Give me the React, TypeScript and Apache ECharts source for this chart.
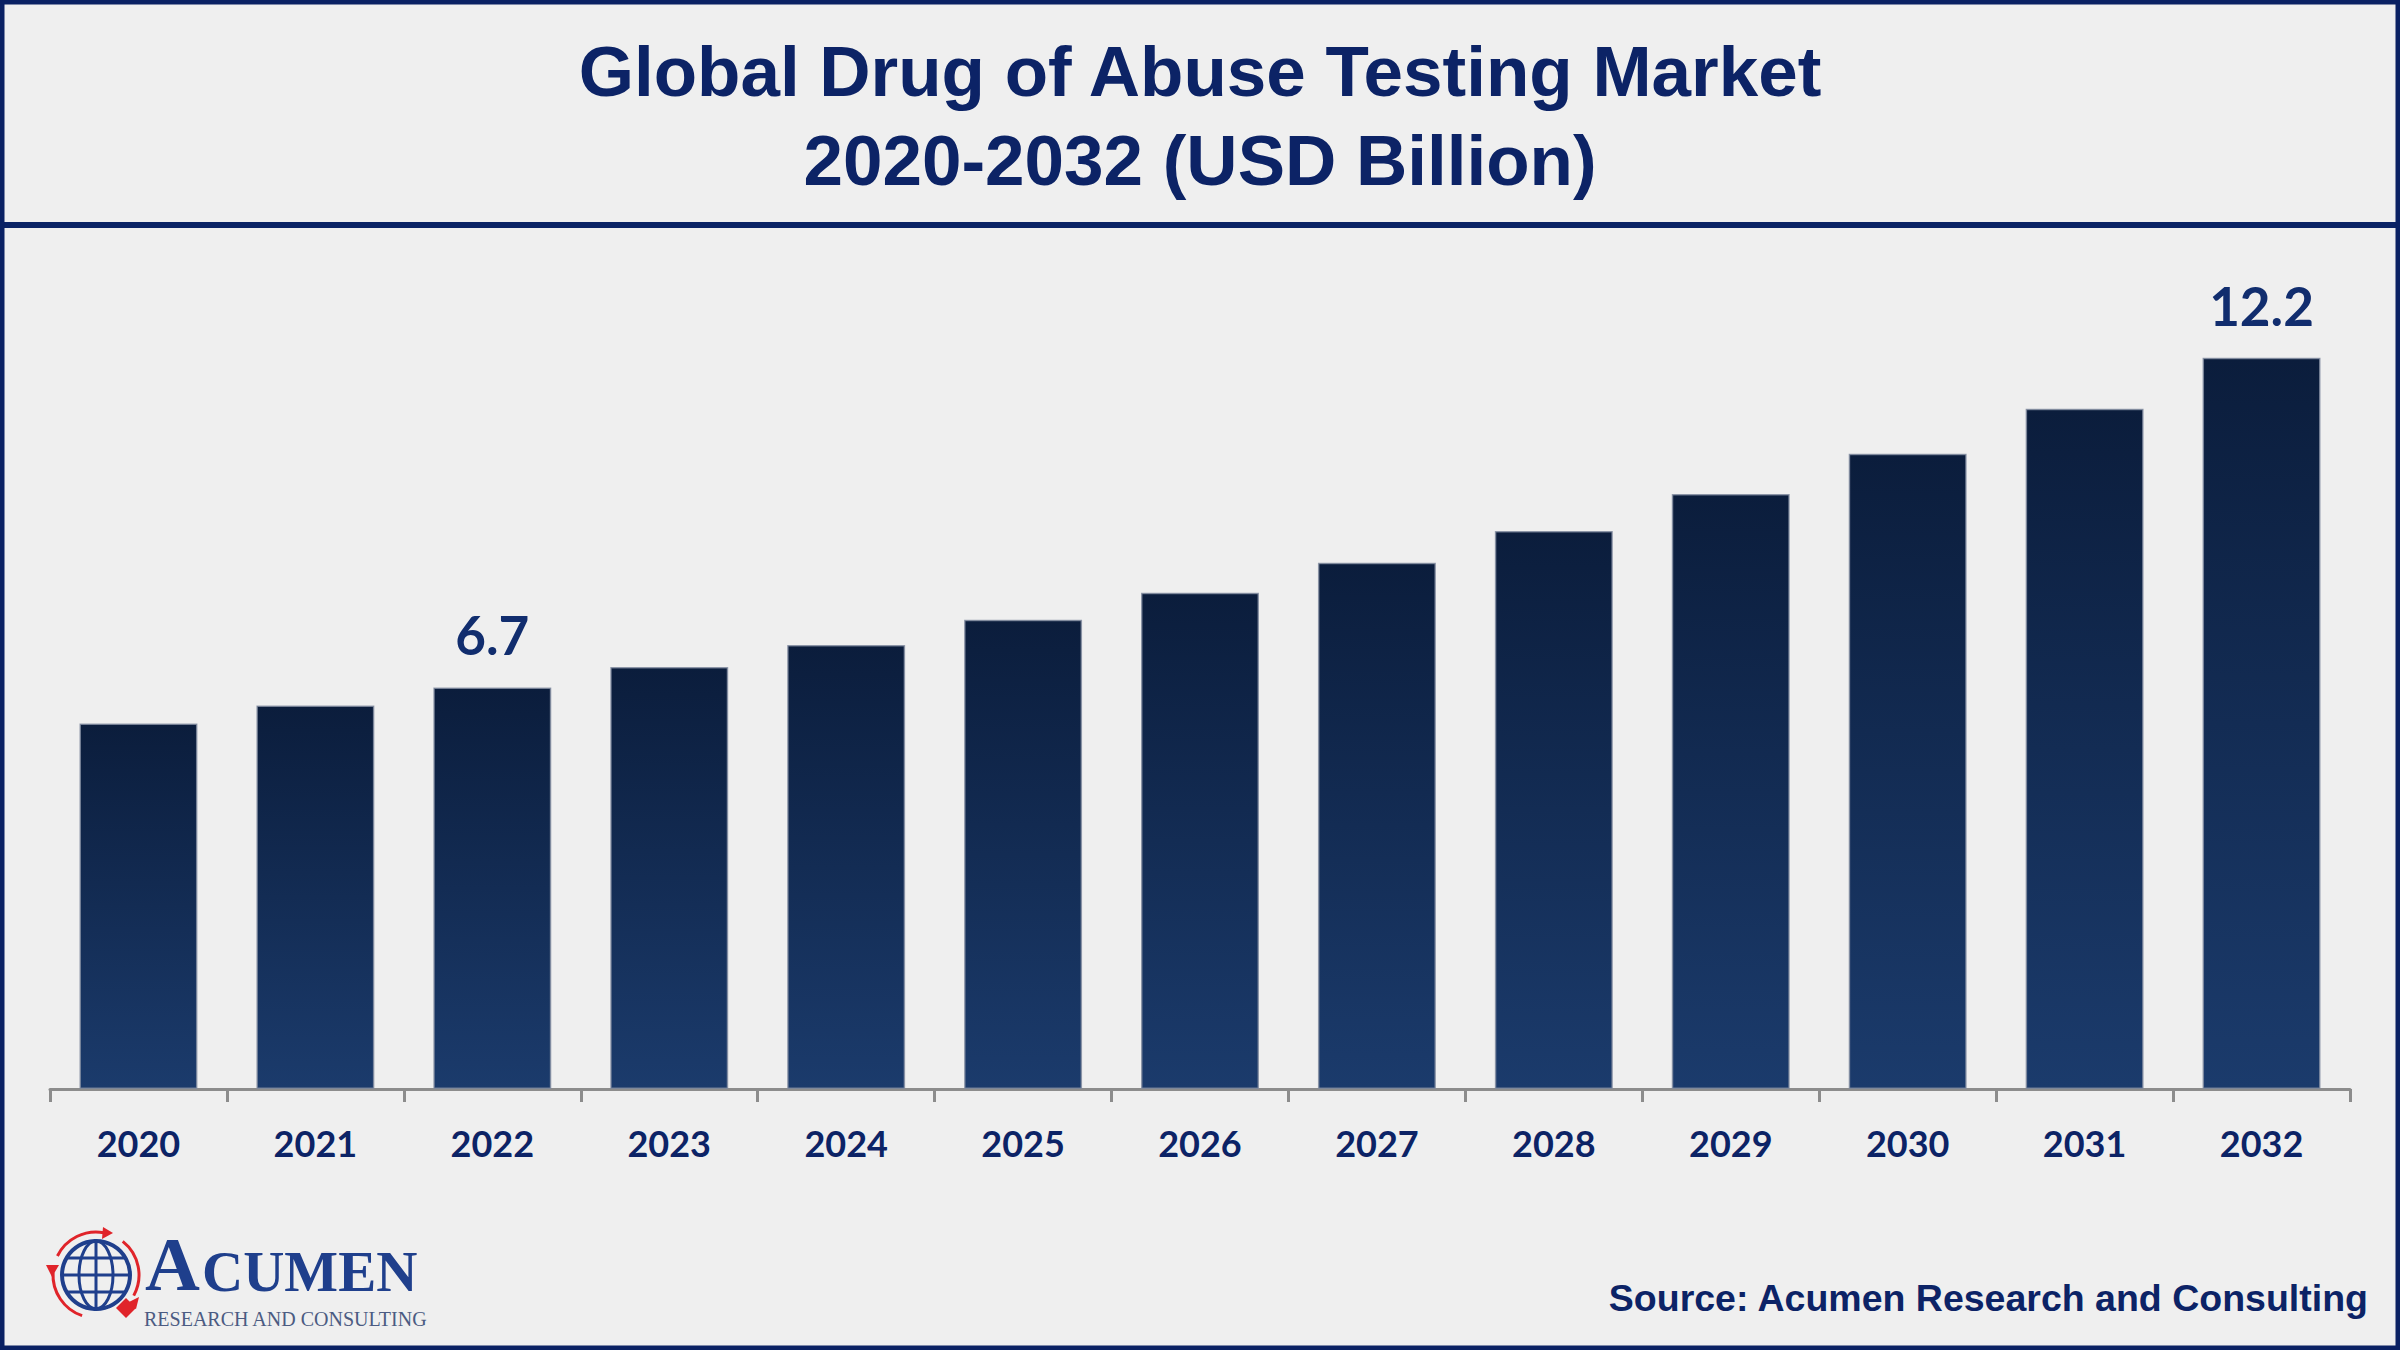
import React, { useEffect, useRef } from "react";
import * as echarts from "echarts";

const categories = ["2020", "2021", "2022", "2023", "2024", "2025", "2026", "2027", "2028", "2029", "2030", "2031", "2032"];
const marketValues = [6.1, 6.4, 6.7, 7.04, 7.41, 7.83, 8.28, 8.78, 9.31, 9.93, 10.6, 11.35, 12.2];
const labelledYears = ["2022", "2032"];
const titleLines = ["Global Drug of Abuse Testing Market", "2020-2032 (USD Billion)"];
const sourceText = "Source: Acumen Research and Consulting";
const logoWord = ["A", "CUMEN"];
const logoSub = "RESEARCH AND CONSULTING";

const NAVY = "#0c2366";

export default function App() {
  const ref = useRef<HTMLDivElement>(null);
  useEffect(() => {
    if (!ref.current) return;
    const chart = echarts.init(ref.current, undefined, { renderer: "svg" });
    const gcx = 96;
    const gcy = 1275;
    const logoBlue = "#1f3f8c";
    const red = "#e0242a";
    const seriesData = marketValues.map((v, i) =>
      labelledYears.includes(categories[i]) ? { value: v, label: { show: true } } : v
    );
    chart.setOption({
      animation: false,
      backgroundColor: "#efefef",
      title: {
        text: titleLines.join("\n"),
        left: "center",
        top: 22,
        textStyle: {
          fontFamily: '"Liberation Sans", Arial, sans-serif',
          fontWeight: "bold",
          fontSize: 71,
          lineHeight: 89,
          color: NAVY,
        },
      },
      grid: { left: 50, right: 50, top: 250, bottom: 261, containLabel: false },
      xAxis: {
        type: "category",
        data: categories,
        axisLine: { show: true, lineStyle: { color: "#8c8c8c", width: 3 } },
        axisTick: { show: true, length: 13, lineStyle: { color: "#8c8c8c", width: 3 } },
        axisLabel: {
          margin: 36,
          color: NAVY,
          fontFamily: "Lato, sans-serif",
          fontWeight: "bold",
          fontSize: 36,
        },
      },
      yAxis: { type: "value", min: 0, max: 14, show: false, splitLine: { show: false } },
      series: [
        {
          type: "bar",
          data: seriesData,
          barWidth: 118,
          itemStyle: {
            color: new echarts.graphic.LinearGradient(0, 0, 0, 1, [
              { offset: 0, color: "#0b1d3c" },
              { offset: 1, color: "#1b3b6c" },
            ]),
            borderColor: "rgba(130,140,160,0.8)",
            borderWidth: 1.5,
          },
          label: {
            show: false,
            position: "top",
            distance: 26,
            color: "#112d6e",
            fontFamily: "Lato, sans-serif",
            fontWeight: "bold",
            fontSize: 53,
          },
        },
      ],
      graphic: [
        {
          type: "rect",
          shape: { x: 0, y: 222, width: 2400, height: 6 },
          style: { fill: "#0b2365" },
          z: 50,
        },
        {
          type: "rect",
          shape: { x: 2, y: 2, width: 2396, height: 1346 },
          style: { fill: "none", stroke: "#0a2163", lineWidth: 5 },
          z: 100,
        },
        {
          type: "text",
          x: 2368,
          y: 1298,
          style: {
            text: sourceText,
            fill: NAVY,
            font: 'bold 37.5px "Liberation Sans", Arial, sans-serif',
            align: "right",
            verticalAlign: "middle",
          },
          z: 50,
        },
        {
          type: "group",
          z: 50,
          children: [
            { type: "circle", shape: { cx: gcx, cy: gcy, r: 34 }, style: { fill: "none", stroke: logoBlue, lineWidth: 4 } },
            { type: "ellipse", shape: { cx: gcx, cy: gcy, rx: 17, ry: 34 }, style: { fill: "none", stroke: logoBlue, lineWidth: 3 } },
            { type: "line", shape: { x1: gcx, y1: gcy - 34, x2: gcx, y2: gcy + 34 }, style: { stroke: logoBlue, lineWidth: 3 } },
            { type: "line", shape: { x1: gcx - 34, y1: gcy, x2: gcx + 34, y2: gcy }, style: { stroke: logoBlue, lineWidth: 3 } },
            { type: "line", shape: { x1: gcx - 29, y1: gcy - 17, x2: gcx + 29, y2: gcy - 17 }, style: { stroke: logoBlue, lineWidth: 3 } },
            { type: "line", shape: { x1: gcx - 29, y1: gcy + 17, x2: gcx + 29, y2: gcy + 17 }, style: { stroke: logoBlue, lineWidth: 3 } },
            { type: "arc", shape: { cx: gcx, cy: gcy, r: 43, startAngle: 3.6, endAngle: 4.9, clockwise: true }, style: { fill: "none", stroke: red, lineWidth: 3 } },
            { type: "arc", shape: { cx: gcx, cy: gcy, r: 43, startAngle: -0.9, endAngle: 0.5, clockwise: true }, style: { fill: "none", stroke: red, lineWidth: 3 } },
            { type: "arc", shape: { cx: gcx, cy: gcy, r: 43, startAngle: 1.9, endAngle: 3.2, clockwise: true }, style: { fill: "none", stroke: red, lineWidth: 3 } },
            { type: "polygon", shape: { points: [[gcx + 7, gcy - 48], [gcx + 17, gcy - 42], [gcx + 6, gcy - 36]] }, style: { fill: red } },
            { type: "polygon", shape: { points: [[gcx + 31, gcy + 28], [gcx + 43, gcy + 22], [gcx + 40, gcy + 34]] }, style: { fill: red } },
            { type: "polygon", shape: { points: [[gcx - 50, gcy - 10], [gcx - 37, gcy - 10], [gcx - 44, gcy + 2]] }, style: { fill: red } },
            { type: "polygon", shape: { points: [[gcx + 30, gcy + 23], [gcx + 40, gcy + 33], [gcx + 30, gcy + 43], [gcx + 20, gcy + 33]] }, style: { fill: red } },
            {
              type: "text",
              x: 145,
              y: 1264,
              style: { text: logoWord[0], fill: logoBlue, font: 'bold 76px "Liberation Serif", "Times New Roman", serif', lineHeight: 50, align: "left", verticalAlign: "middle" },
            },
            {
              type: "text",
              x: 202,
              y: 1271,
              style: { text: logoWord[1], fill: logoBlue, font: 'bold 57px "Liberation Serif", "Times New Roman", serif', lineHeight: 38, align: "left", verticalAlign: "middle" },
            },
            {
              type: "text",
              x: 144,
              y: 1319,
              style: { text: logoSub, fill: "#4b5b82", font: '20px "Liberation Serif", "Times New Roman", serif', lineHeight: 15, align: "left", verticalAlign: "middle" },
            },
          ],
        },
      ],
    });
    return () => chart.dispose();
  }, []);
  return (
    <div
      ref={ref}
      style={{ position: "fixed", left: 0, top: 0, width: 2400, height: 1350 }}
    />
  );
}
